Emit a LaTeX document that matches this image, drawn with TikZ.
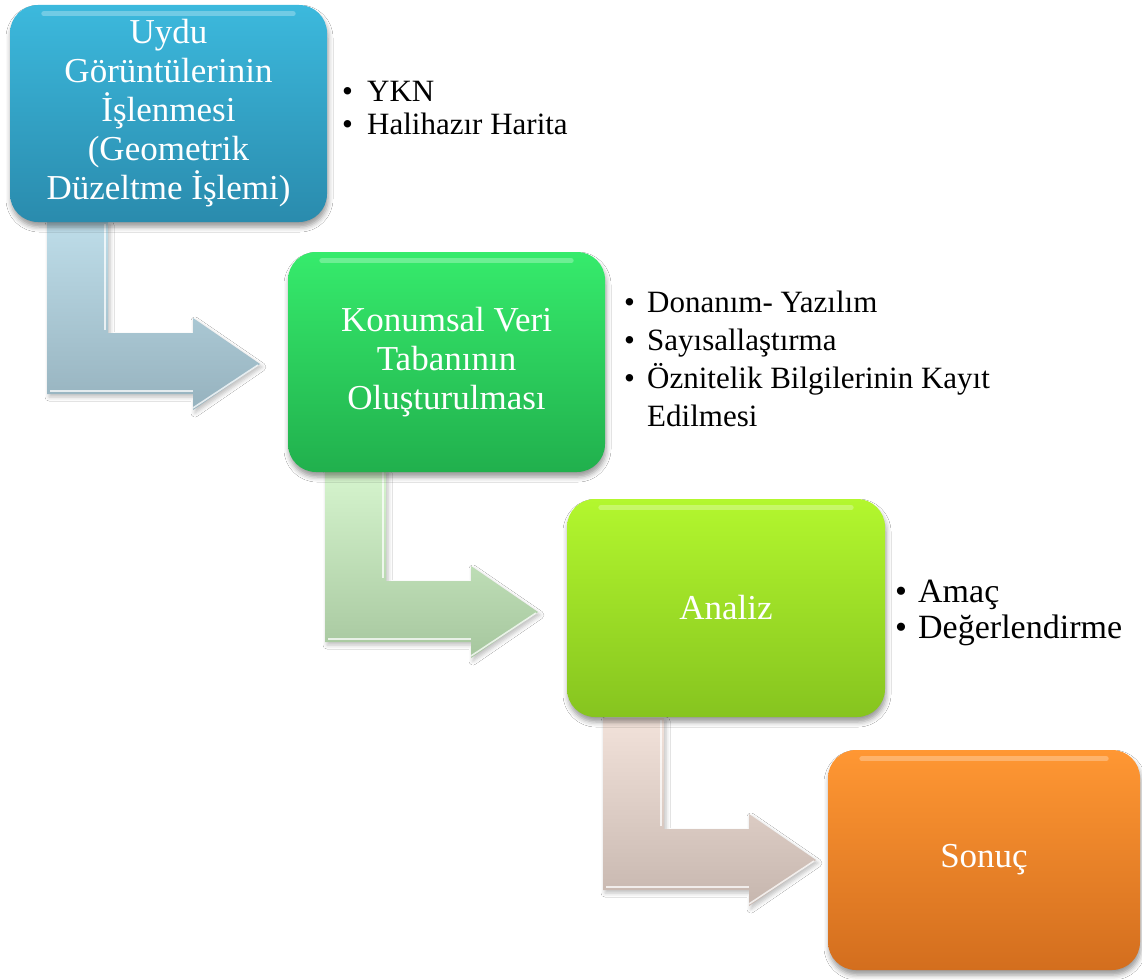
\documentclass[tikz,border=0pt]{standalone}
\usepackage{fontspec}
\setmainfont{Liberation Serif}
\usetikzlibrary{shadows.blur,calc}
\definecolor{bT}{HTML}{3CB9DD}
\definecolor{bB}{HTML}{2A8BAD}
\definecolor{gT}{HTML}{36EB6C}
\definecolor{gB}{HTML}{21B04D}
\definecolor{lT}{HTML}{B3F72E}
\definecolor{lB}{HTML}{86C41F}
\definecolor{oT}{HTML}{FF9733}
\definecolor{oB}{HTML}{D36E1E}
\definecolor{a1T}{HTML}{BEDDE9}
\definecolor{a1B}{HTML}{96B2BE}
\definecolor{a2T}{HTML}{D6F5CE}
\definecolor{a2B}{HTML}{A6C69E}
\definecolor{a3T}{HTML}{F2E2DA}
\definecolor{a3B}{HTML}{C6B6AE}
\tikzset{
  box/.style={rounded corners=28pt, inner sep=0pt, text=white, align=center,
    font=\fontsize{35}{39}\selectfont,
    blur shadow={shadow xshift=1pt, shadow yshift=-5pt, shadow blur radius=5pt, shadow opacity=40}},
  gloss/.style={white, opacity=.28, line width=5pt, line cap=round},
  listnode/.style={anchor=base west, inner sep=0pt, text=black},
  bevel/.style={white, opacity=.75, line width=1.6pt},
}
\newcommand{\bentarrow}[4]{%
  \begin{scope}[shift={(#1)}]
    \shade[top color=#2, bottom color=#3, blur shadow={shadow xshift=2pt, shadow yshift=-3pt, shadow blur radius=4pt, shadow opacity=25}]
      (0,0) -- (0,172) -- (146,172) -- (146,188) -- (213,142) -- (146,96) -- (146,111) -- (61,111) -- (61,0) -- cycle;
    \draw[bevel] (3,169) -- (146,169);
    \draw[bevel] (58,2) -- (58,108);
    \draw[bevel] (146,186) -- (211,143);
  \end{scope}}
\begin{document}
\begin{tikzpicture}[x=1pt,y=-1pt]
\useasboundingbox (0,0) rectangle (1142,979);
\fill[white] (0,0) rectangle (1142,979);

% bent arrows (behind boxes)
\bentarrow{47,222}{a1T}{a1B}{1}
\bentarrow{325,470}{a2T}{a2B}{2}
\bentarrow{603,718}{a3T}{a3B}{3}

% boxes
\node[box, top color=bT, bottom color=bB, minimum width=317pt, minimum height=217pt] (b1) at (168.5,113.5)
  {Uydu\\Görüntülerinin\\İşlenmesi\\(Geometrik\\Düzeltme İşlemi)};
\node[box, top color=gT, bottom color=gB, minimum width=317pt, minimum height=220pt] (b2) at (446.5,362)
  {Konumsal Veri\\Tabanının\\Oluşturulması};
\node[box, top color=lT, bottom color=lB, minimum width=318pt, minimum height=218pt] (b3) at (726,608)
  {Analiz};
\node[box, top color=oT, bottom color=oB, minimum width=312pt, minimum height=220pt] (b4) at (984,860)
  {Sonuç};

% glossy highlights
\foreach \b in {b1,b2,b3,b4}{
  \draw[gloss] ($(\b.north west)+(34,9)$) -- ($(\b.north east)+(-34,9)$);
}

% bullet lists
\node[listnode, font=\fontsize{31}{33}\selectfont] (l1) at (342,102)
  {\begin{tabular}[t]{@{}p{25pt}@{}l@{}}\textbullet & YKN\\ \textbullet & Halihazır Harita\end{tabular}};
\node[listnode, font=\fontsize{31}{38}\selectfont] (l2) at (624,312)
  {\begin{tabular}[t]{@{}p{23pt}@{}l@{}}\textbullet & Donanım- Yazılım\\ \textbullet & Sayısallaştırma\\ \textbullet & Öznitelik Bilgilerinin Kayıt\\ & Edilmesi\end{tabular}};
\node[listnode, font=\fontsize{34}{36}\selectfont] (l3) at (895,602)
  {\begin{tabular}[t]{@{}p{23pt}@{}l@{}}\textbullet & Amaç\\ \textbullet & Değerlendirme\end{tabular}};
\end{tikzpicture}
\end{document}
